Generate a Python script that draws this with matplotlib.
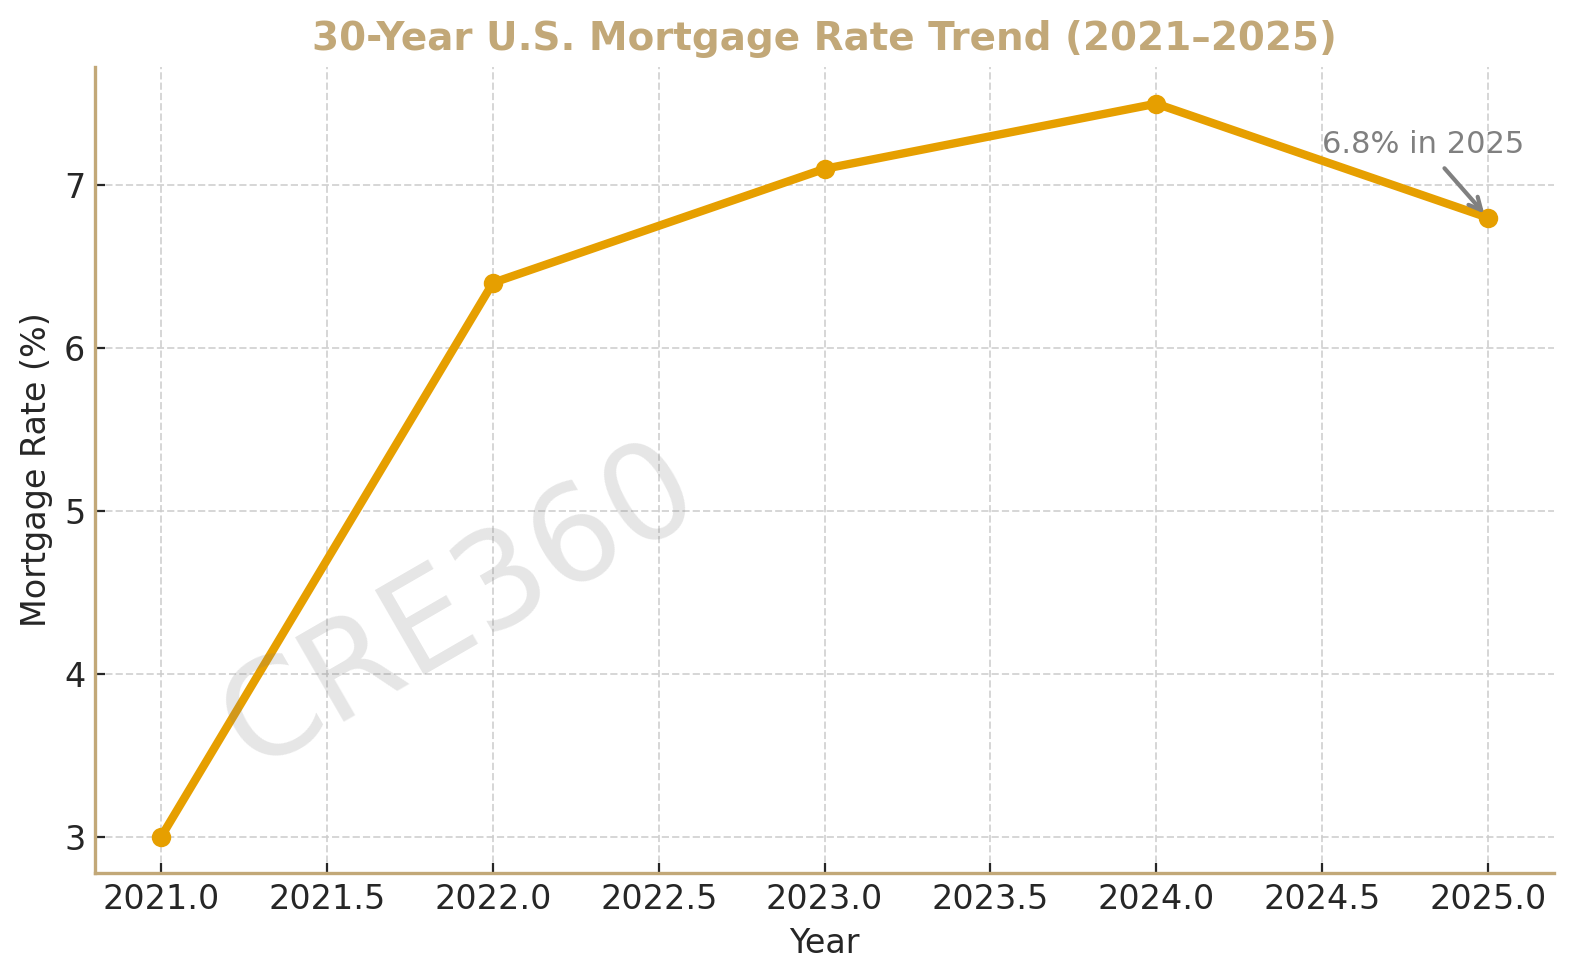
import matplotlib
matplotlib.use("Agg")
import matplotlib.pyplot as plt

years = [2021, 2022, 2023, 2024, 2025]
rates = [3.0, 6.4, 7.1, 7.5, 6.8]

title = "30-Year U.S. Mortgage Rate Trend (2021–2025)"
note = "6.8% in 2025"

line_color = "#E69F00"
tan = "#C2A878"
dark = "#262626"

fig, ax = plt.subplots(figsize=(7.875, 4.9), dpi=200)
fig.subplots_adjust(left=0.0603, right=0.9868, top=0.9316, bottom=0.109)
ax.plot(years, rates, color=line_color, linewidth=3, marker="o", markersize=6)
ax.set_title(title, fontsize=14, fontweight="bold", color=tan)
ax.set_xlabel("Year", fontsize=12, color=dark)
ax.set_ylabel("Mortgage Rate (%)", fontsize=12, color=dark)
ax.tick_params(labelsize=12, direction="in", colors=dark)
ax.grid(True, linestyle="--", color="#cccccc", alpha=0.8, linewidth=0.7)
for s in ("top", "right"):
    ax.spines[s].set_visible(False)
for s in ("left", "bottom"):
    ax.spines[s].set_color(tan)
    ax.spines[s].set_linewidth(1.2)

ax.text(0.25, 0.33, "CRE360", transform=ax.transAxes, fontsize=48, color="gray",
        alpha=0.2, rotation=30, ha="center", va="center", zorder=5)

ax.annotate(note, xy=(years[-1], rates[-1]), xytext=(2024.5, 7.2),
            fontsize=11, color="gray",
            arrowprops=dict(arrowstyle="->", color="gray", lw=1.5))

fig.savefig("out.png", dpi=200)
